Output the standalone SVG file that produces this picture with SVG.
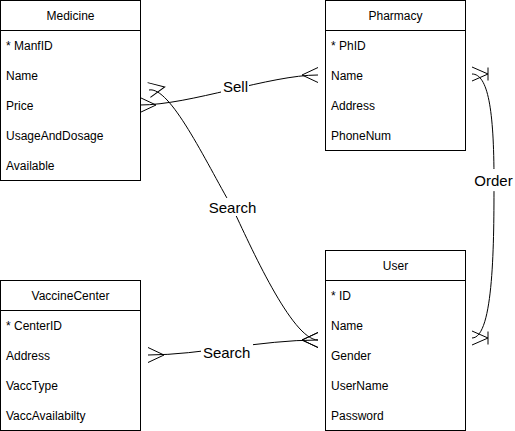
<svg xmlns="http://www.w3.org/2000/svg" width="515" height="431" viewBox="0 0 515 431">
<style>
.box{fill:#fff;stroke:#000;stroke-width:1}
.sep{stroke:#000;stroke-width:1}
.t{font-family:"Liberation Sans",Arial,sans-serif;font-size:12px;fill:#000}
.h{text-anchor:middle}
.edge{fill:none;stroke:#000;stroke-width:1}
.many{marker-start:url(#many);marker-end:url(#many)}
.lbg{fill:#fff;stroke:none}
.lbl{font-family:"Liberation Sans",Arial,sans-serif;font-size:15px;fill:#000;text-anchor:middle}
</style>
<defs>
<marker id="many" viewBox="-20 -10 24 20" markerWidth="24" markerHeight="20" refX="0" refY="0" orient="auto-start-reverse" markerUnits="userSpaceOnUse">
<path d="M0,-7.5 L-16,0 L0,7.5" fill="none" stroke="#000" stroke-width="1"/>
</marker>
<marker id="onemany" viewBox="-20 -10 24 20" markerWidth="24" markerHeight="20" refX="0" refY="0" orient="auto-start-reverse" markerUnits="userSpaceOnUse">
<path d="M0,-7 L-16,0 L0,7 M-16,-6.5 L-16,6.5" fill="none" stroke="#000" stroke-width="1"/>
</marker>
</defs>
<rect width="515" height="431" fill="#fff"/>

<g id="connectors">
<path class="edge many" d="M140,105 C190,105 270,75 318,75"/>
<path class="edge many" d="M149,90 C170,86 205,160 232,207 C250,245 292,340 318,340"/>
<path class="edge many" d="M148,355 C200,355 260,340 318,340"/>
<path class="edge" marker-start="url(#onemany)" marker-end="url(#onemany)" d="M472,74 C488,74 494,110 494,180 C494,240 494,338 472,338"/>
<rect class="lbg" x="221" y="77" width="28" height="18"/>
<text class="lbl" x="235.5" y="91.5">Sell</text>
<rect class="lbg" x="207" y="198" width="51" height="18"/>
<text class="lbl" x="232.5" y="213">Search</text>
<rect class="lbg" x="201" y="343" width="52" height="18"/>
<text class="lbl" x="226.7" y="357.5">Search</text>
<rect class="lbg" x="473" y="169" width="41" height="22"/>
<text class="lbl" x="493.5" y="185.5">Order</text>
</g>

<g id="medicine">
<rect class="box" x="0.5" y="0.5" width="140" height="180"/>
<line class="sep" x1="0.5" y1="30.5" x2="140.5" y2="30.5"/>
<text class="t h" x="70.5" y="19.5">Medicine</text>
<text class="t" x="6" y="49.5">* ManfID</text>
<text class="t" x="6" y="79.5">Name</text>
<text class="t" x="6" y="109.5">Price</text>
<text class="t" x="6" y="139.5">UsageAndDosage</text>
<text class="t" x="6" y="169.5">Available</text>
</g>

<g id="pharmacy">
<rect class="box" x="325.5" y="0.5" width="140" height="150"/>
<line class="sep" x1="325.5" y1="30.5" x2="465.5" y2="30.5"/>
<text class="t h" x="395.5" y="19.5">Pharmacy</text>
<text class="t" x="331" y="49.5">* PhID</text>
<text class="t" x="331" y="79.5">Name</text>
<text class="t" x="331" y="109.5">Address</text>
<text class="t" x="331" y="139.5">PhoneNum</text>
</g>

<g id="user">
<rect class="box" x="325.5" y="250.5" width="140" height="180"/>
<line class="sep" x1="325.5" y1="280.5" x2="465.5" y2="280.5"/>
<text class="t h" x="395.5" y="269.5">User</text>
<text class="t" x="331" y="299.5">* ID</text>
<text class="t" x="331" y="329.5">Name</text>
<text class="t" x="331" y="359.5">Gender</text>
<text class="t" x="331" y="389.5">UserName</text>
<text class="t" x="331" y="419.5">Password</text>
</g>

<g id="vaccinecenter">
<rect class="box" x="0.5" y="280.5" width="140" height="150"/>
<line class="sep" x1="0.5" y1="310.5" x2="140.5" y2="310.5"/>
<text class="t h" x="70.5" y="299.5">VaccineCenter</text>
<text class="t" x="6" y="329.5">* CenterID</text>
<text class="t" x="6" y="359.5">Address</text>
<text class="t" x="6" y="389.5">VaccType</text>
<text class="t" x="6" y="419.5">VaccAvailabilty</text>
</g>
</svg>
